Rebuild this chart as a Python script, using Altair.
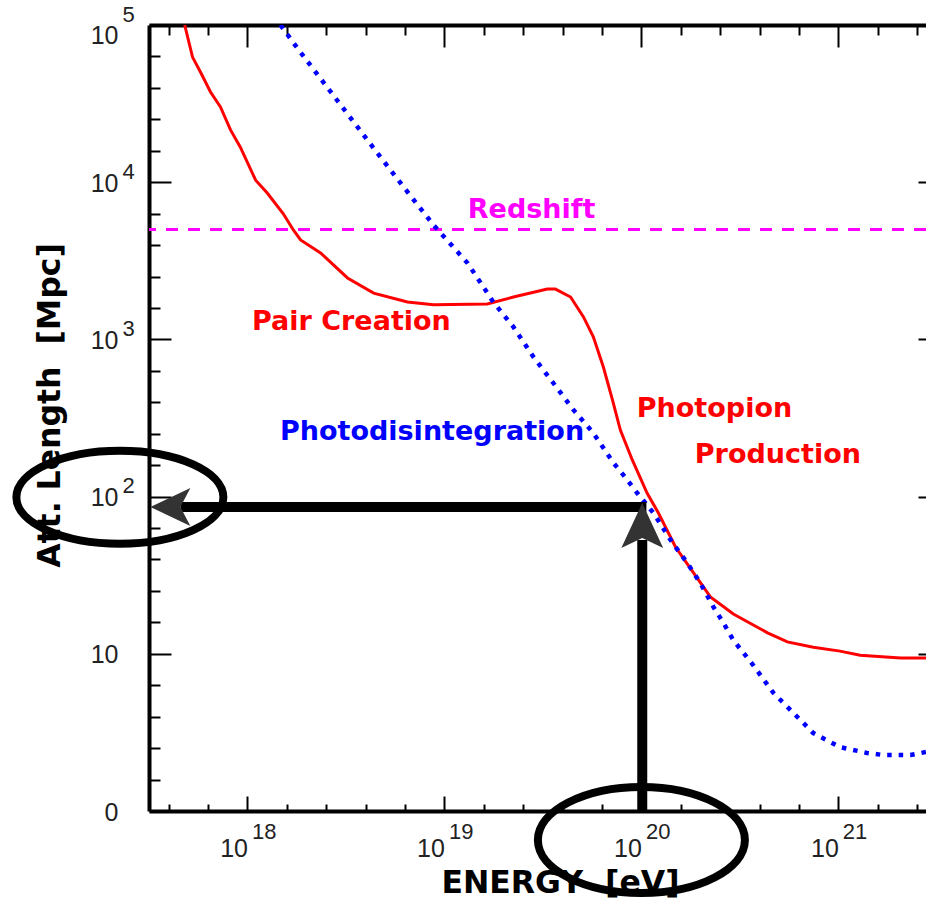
import altair as alt
import pandas as pd

# ---------------- data ----------------
RED_E = [4.8e17, 5.26e17, 5.77e17, 6.49e17, 7.29e17, 8.20e17, 9.20e17, 1.10e18, 1.26e18,
         1.52e18, 1.71e18, 1.86e18, 2.35e18, 3.22e18, 4.37e18, 6.49e18, 8.79e18, 1.65e19,
         2.24e19, 3.33e19, 3.66e19, 4.37e19, 5.08e19, 5.70e19, 6.41e19, 7.13e19, 7.82e19,
         8.99e19, 1.07e20, 1.22e20, 1.49e20, 1.84e20, 2.24e20, 2.93e20, 4.37e20, 5.51e20,
         7.46e20, 1.02e21, 1.29e21, 2.07e21, 2.93e21]
RED_L = [1.0e5, 6.25e4, 5.02e4, 3.75e4, 3.01e4, 2.15e4, 1.67e4, 1.03e4, 8.53e3,
         6.3e3, 4.97e3, 4.29e3, 3.55e3, 2.46e3, 1.97e3, 1.73e3, 1.66e3, 1.68e3,
         1.86e3, 2.09e3, 2.09e3, 1.86e3, 1.39e3, 1.04e3, 667, 412, 265,
         171, 105, 78.7, 47.8, 32.7, 23.0, 17.9, 13.6, 11.9,
         11.0, 10.4, 9.8, 9.4, 9.4]

BLUE_E = [1.47e18, 1.79e18, 4.57e18, 5.98e18, 8.79e18, 1.31e19, 1.77e19, 2.24e19, 2.83e19,
          3.57e19, 4.52e19, 5.70e19, 7.21e19, 8.11e19, 9.55e19, 1.15e20, 1.44e20, 1.71e20,
          1.99e20, 2.32e20, 2.61e20, 2.93e20, 3.66e20, 4.68e20, 5.92e20, 7.46e20, 1.02e21,
          1.40e21, 1.69e21, 2.32e21, 2.93e21]
BLUE_L = [1.0e5, 7.14e4, 1.53e4, 9.89e3, 5.35e3, 3.06e3, 1.73e3, 1.20e3, 773,
          528, 356, 254, 164, 137, 105, 78.7, 50.7, 37.8,
          28.2, 19.9, 15.7, 12.2, 8.6, 5.64, 4.20, 3.13, 2.55,
          2.34, 2.27, 2.27, 2.4]

REDSHIFT_L = [5000]

LABEL_TEXT = ["Redshift", "Pair Creation", "Photodisintegration", "Photopion", "Production"]
LABEL_E = [2.77e19, 3.37e18, 8.65e18, 2.35e20, 4.93e20]
LABEL_L = [5.92e3, 1.15e3, 229, 321, 164]
LABEL_COLOR = ["#ff00ff", "#ff0000", "#0000ff", "#ff0000", "#ff0000"]

# annotation overlay (energy / length coordinates)
ELLIPSE_E = [2.25e17, 1.0e20]
ELLIPSE_L = [99, 0.654]
ARROW_E1 = [4.57e17, 1.01e20]
ARROW_E2 = [1.06e20, 1.01e20]
ARROW_L1 = [85.9, 0.98]
ARROW_L2 = [85.9, 53]
HEAD_E = [4.06e17, 1.01e20]
HEAD_L = [85.9, 65.5]

# axis ticks
X_MAJOR = [1e18, 1e19, 1e20, 1e21]
X_MINOR_EXP = [17.6, 17.8, 18.2, 18.4, 18.6, 18.8, 19.2, 19.4, 19.6, 19.8,
               20.2, 20.4, 20.6, 20.8, 21.2, 21.4]
Y_MAJOR = [1, 10, 100, 1e3, 1e4, 1e5]
Y_EXP_TICKS = [100, 1e3, 1e4, 1e5]
Y_MINOR_EXP = [0.2, 0.4, 0.6, 0.8, 1.2, 1.4, 1.6, 1.8, 2.2, 2.4, 2.6, 2.8,
               3.2, 3.4, 3.6, 3.8, 4.2, 4.4, 4.6, 4.8]
X_MINOR = [10 ** e for e in X_MINOR_EXP]
Y_MINOR = [10 ** e for e in Y_MINOR_EXP]

# ---------------- styles ----------------
ELLIPSE_LEFT = ("M -1 0 C -1 -0.248 -0.552 -0.449 0 -0.449 C 0.552 -0.449 1 -0.248 1 0 "
                "C 1 0.248 0.552 0.449 0 0.449 C -0.552 0.449 -1 0.248 -1 0 Z")
ELLIPSE_BOTTOM = ("M -1 0 C -1 -0.283 -0.552 -0.512 0 -0.512 C 0.552 -0.512 1 -0.283 1 0 "
                  "C 1 0.283 0.552 0.512 0 0.512 C -0.552 0.512 -1 0.283 -1 0 Z")
HEAD_LEFT = "M -1 0 L 1 -0.95 L 0.5 0 L 1 0.95 Z"
HEAD_UP = "M 0 -1 L 0.93 1 L 0 0.56 L -0.93 1 Z"

red_df = pd.DataFrame({"E": RED_E, "L": RED_L})
blue_df = pd.DataFrame({"E": BLUE_E, "L": BLUE_L})
rs_df = pd.DataFrame({"L": REDSHIFT_L})
lab_df = pd.DataFrame({"E": LABEL_E, "L": LABEL_L, "t": LABEL_TEXT, "c": LABEL_COLOR})
lab_red = lab_df[lab_df["c"] == "#ff0000"]
lab_other = lab_df[lab_df["c"] != "#ff0000"]
ell_df = pd.DataFrame({"E": ELLIPSE_E, "L": ELLIPSE_L,
                       "shape": [ELLIPSE_LEFT, ELLIPSE_BOTTOM], "size": [42849, 42849]})
arr_df = pd.DataFrame({"E": ARROW_E1, "E2": ARROW_E2, "L": ARROW_L1, "L2": ARROW_L2})
head_df = pd.DataFrame({"E": HEAD_E, "L": HEAD_L,
                        "shape": [HEAD_LEFT, HEAD_UP], "size": [1600, 2025]})

XS = alt.Scale(type="log", domain=[10 ** 17.5, 10 ** 21.445])
YS = alt.Scale(type="log", domain=[1, 1e5])

LABEL_FONT = "Liberation Sans"


def ax(orient, **kw):
    base = dict(orient=orient, grid=False, title=None, domain=False, ticks=False,
                labels=False)
    base.update(kw)
    return alt.Axis(**base)


tick_style = dict(ticks=True, tickWidth=2, tickColor="black")

x_lab10 = ax("bottom", domain=True, domainColor="black", domainWidth=4, labels=True,
             values=X_MAJOR, labelExpr="'10'", labelAlign="right",
             labelBaseline="alphabetic", labelPadding=45, tickSize=0,
             labelFont=LABEL_FONT, labelFontSize=25, labelColor="#222",
             labelFlush=False, labelOverlap=False,
             title="ENERGY\u00a0\u00a0[eV]", titleFont="DejaVu Sans",
             titleFontWeight="bold", titleFontSize=31.5, titleColor="black",
             titleX=411, titleY=81, titleAlign="center", titleBaseline="alphabetic")
x_exp = ax("bottom", labels=True, values=X_MAJOR,
           labelExpr="'' + round(log(datum.value) / LN10)", labelAlign="left",
           labelBaseline="alphabetic", labelPadding=27, labelOffset=4, tickSize=0,
           labelFont=LABEL_FONT, labelFontSize=22, labelColor="#222",
           labelFlush=False, labelOverlap=False)
x_major = ax("bottom", values=X_MAJOR, tickSize=15, offset=-15, **tick_style)
x_minor = ax("bottom", values=X_MINOR, tickSize=7, offset=-7, **tick_style)
x_top = ax("top", domain=True, domainColor="black", domainWidth=4)
x_top_major = ax("top", values=X_MAJOR, tickSize=22, offset=-22, **tick_style)
x_top_minor = ax("top", values=X_MINOR, tickSize=10, offset=-10, **tick_style)

y_lab10 = ax("left", domain=True, domainColor="black", domainWidth=4, labels=True,
             values=Y_MAJOR, labelExpr="datum.value < 5 ? '0' : '10'",
             labelAlign="right", labelBaseline="alphabetic", labelPadding=31,
             labelOffset={"condition": {"test": "datum.value >= 100000", "value": 18},
                          "value": 9},
             tickSize=0, labelFont=LABEL_FONT, labelFontSize=25, labelColor="#222",
             labelFlush=False, labelOverlap=False,
             title="Att. Length\u00a0\u00a0[Mpc]", titleFont="DejaVu Sans",
             titleFontWeight="bold", titleFontSize=31.5, titleColor="black",
             titleAngle=270, titleX=-90, titleY=380, titleAlign="center",
             titleBaseline="alphabetic")
y_exp = ax("left", labels=True, values=Y_EXP_TICKS,
           labelExpr="'' + round(log(datum.value) / LN10)", labelAlign="left",
           labelBaseline="alphabetic", labelPadding=27, labelOffset=-4, tickSize=0,
           labelFont=LABEL_FONT, labelFontSize=22, labelColor="#222",
           labelFlush=False, labelOverlap=False)
y_major = ax("left", values=Y_MAJOR, tickSize=22, offset=-22, **tick_style)
y_minor = ax("left", values=Y_MINOR, tickSize=11, offset=-11, **tick_style)
y_right = ax("right", values=Y_MAJOR, tickSize=8, offset=-8, **tick_style)

redshift = alt.Chart(rs_df).mark_rule(color="#ff00ff", strokeWidth=3,
                                      strokeDash=[12, 10]).encode(
    y=alt.Y("L:Q", scale=YS, axis=None))

red = alt.Chart(red_df).mark_line(color="#ff0000", strokeWidth=3, clip=True).encode(
    x=alt.X("E:Q", scale=XS, axis=x_lab10),
    y=alt.Y("L:Q", scale=YS, axis=y_lab10))

blue = alt.Chart(blue_df).mark_line(color="#0000ff", strokeWidth=4.5, strokeDash=[4.5, 7],
                                    clip=True).encode(
    x=alt.X("E:Q", scale=XS, axis=x_exp),
    y=alt.Y("L:Q", scale=YS, axis=y_exp))

text_props = dict(font="DejaVu Sans", fontWeight="bold", fontSize=27, align="center",
                  baseline="alphabetic")
txt_red = alt.Chart(lab_red).mark_text(**text_props).encode(
    x=alt.X("E:Q", scale=XS, axis=x_major),
    y=alt.Y("L:Q", scale=YS, axis=y_major),
    text="t:N", color=alt.Color("c:N", scale=None))
txt_other = alt.Chart(lab_other).mark_text(**text_props).encode(
    x=alt.X("E:Q", scale=XS, axis=x_minor),
    y=alt.Y("L:Q", scale=YS, axis=y_minor),
    text="t:N", color=alt.Color("c:N", scale=None))

arrows = alt.Chart(arr_df).mark_rule(color="black", strokeWidth=10, strokeCap="butt").encode(
    x=alt.X("E:Q", scale=XS, axis=x_top_major),
    x2="E2:Q",
    y=alt.Y("L:Q", scale=YS, axis=None),
    y2="L2:Q")

heads = alt.Chart(head_df).mark_point(filled=True, color="#333333", opacity=1,
                                      strokeWidth=0).encode(
    x=alt.X("E:Q", scale=XS, axis=x_top_minor),
    y=alt.Y("L:Q", scale=YS, axis=None),
    shape=alt.Shape("shape:N", scale=None),
    size=alt.Size("size:Q", scale=None))

ellipses = alt.Chart(ell_df).mark_point(filled=False, color="black", opacity=1,
                                        strokeWidth=8).encode(
    x=alt.X("E:Q", scale=XS, axis=x_top),
    y=alt.Y("L:Q", scale=YS, axis=y_right),
    shape=alt.Shape("shape:N", scale=None),
    size=alt.Size("size:Q", scale=None))

chart = alt.layer(redshift, red, blue, txt_red, txt_other, arrows, heads, ellipses).resolve_axis(
    x="independent", y="independent"
).properties(
    width=777, height=786,
    autosize=alt.AutoSizeParams(type="none"),
    padding={"left": 149, "top": 25, "right": 0, "bottom": 88},
    background="white",
).configure_view(stroke=None)

chart.save("out.html", embed_options={"renderer": "svg", "actions": False})
